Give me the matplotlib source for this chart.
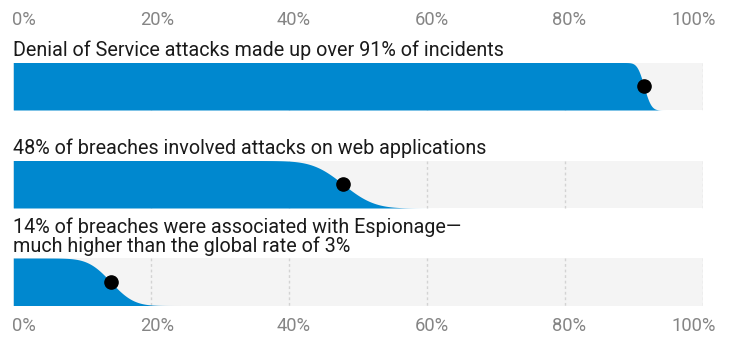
import math

import numpy as np
import matplotlib
matplotlib.use("Agg")
import matplotlib.pyplot as plt
import matplotlib.transforms as mtransforms

# data
titles = [
    "Denial of Service attacks made up over 91% of incidents",
    "48% of breaches involved attacks on web applications",
    "14% of breaches were associated with Espionage\u2014\nmuch higher than the global rate of 3%",
]
medians = [0.914, 0.478, 0.141]
spreads = [0.008, 0.035, 0.026]
tick_values = [0.0, 0.2, 0.4, 0.6, 0.8, 1.0]
tick_labels = ["0%", "20%", "40%", "60%", "80%", "100%"]

# layout (pixels from top of a 733x337 canvas)
W, H = 733, 337
band_tops = [62.5, 160.5, 258.0]
band_h = 47.5
title_baselines = [56.5, 153.5, 252.5]

BLUE = "#0088cf"
BG = "#f4f4f4"
GRID = "#d3d3d3"
TICK = "#858585"
TEXT = "#1a1a1a"

plt.rcParams["font.family"] = ["Roboto", "DejaVu Sans"]

fig = plt.figure(figsize=(W / 100, H / 100), dpi=100)
x0, x1 = 13.3, 703.3
ax = fig.add_axes([x0 / W, 0, (x1 - x0) / W, 1])
ax.set_xlim(0, 1)
ax.set_ylim(H, 0)
ax.axis("off")

erf = np.vectorize(math.erf)
xs = np.linspace(0, 1, 1200)

for top, med, sd in zip(band_tops, medians, spreads):
    bottom = top + band_h
    ax.fill_between([0, 1], top, bottom, color=BG, lw=0, zorder=1)
    for t in tick_values[1:]:
        ax.plot([t, t], [top, bottom], color=GRID, lw=1, ls=(0, (2, 2)), zorder=2)
    ccdf = 0.5 * (1 - erf((xs - med) / (sd * math.sqrt(2))))
    ax.fill_between(xs, bottom, bottom - band_h * ccdf, color=BLUE, lw=0, zorder=3)
    ax.plot([med], [bottom - band_h * 0.5], "o", color="black", ms=9.5, zorder=4)

for title, base in zip(titles, title_baselines):
    ax.text(0, base, title, ha="left", va="baseline", fontsize=14.2,
            color=TEXT, linespacing=0.98, clip_on=False)

# axis labels, top and bottom
offsets = [-1, 6, 4, 5, 4, 13]
for t, lab, off in zip(tick_values, tick_labels, offsets):
    ha = "left" if t == 0 else ("right" if t == 1 else "center")
    tr = ax.transData + mtransforms.ScaledTranslation(off / 100, 0, fig.dpi_scale_trans)
    for y in (25, 331):
        ax.text(t, y, lab, ha=ha, va="baseline", fontsize=13.2, color=TICK,
                transform=tr, clip_on=False)

fig.savefig("out.png", dpi=100)
